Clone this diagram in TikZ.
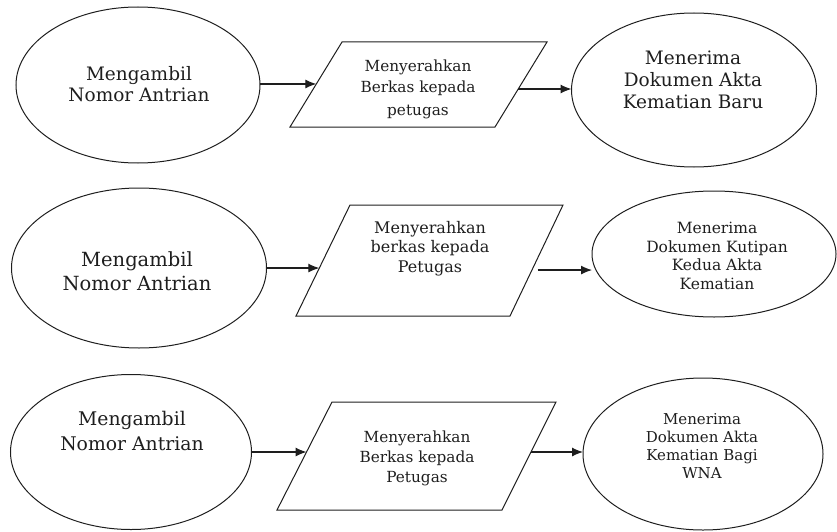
\documentclass[tikz,border=0pt]{standalone}
\usepackage{fontspec}
\setmainfont{DejaVu Serif}
\usetikzlibrary{shapes.geometric,arrows.meta,calc}
\definecolor{ink}{HTML}{1E1E1E}
\begin{document}
\begin{tikzpicture}[x=1pt,y=-1pt,
  line width=1pt,
  oval/.style={draw=ink,ellipse,inner sep=0pt,outer sep=0pt},
  para/.style={draw=ink,line join=miter},
  lbl/.style={align=center,text=ink,inner sep=0pt},
  arr/.style={draw=ink,line width=1.1pt,-{Latex[length=11pt,width=9pt]}}]
\useasboundingbox (0,0) rectangle (837,532);

% Row 1
\node[oval,minimum width=244pt,minimum height=156pt] (e1) at (138,85) {};
\coordinate (p1tl) at (342,42);
\coordinate (p1tr) at (547,42);
\coordinate (p1br) at (495,127);
\coordinate (p1bl) at (290,127);
\draw[para] (p1tl) -- (p1tr) -- (p1br) -- (p1bl) -- cycle;
\node[oval,minimum width=245pt,minimum height=154pt] (e2) at (694,90) {};
\node[lbl,font=\fontsize{18.5}{21}\selectfont] (t1) at (139,84) {Mengambil\\Nomor Antrian};
\node[lbl,font=\fontsize{15.3}{21}\selectfont] (t2) at (418,89) {Menyerahkan\\Berkas kepada\\[2pt]petugas};
\node[lbl,font=\fontsize{18.5}{22}\selectfont] (t3) at (693,80) {Menerima\\Dokumen Akta\\Kematian Baru};
\coordinate (p1in) at ($(p1tl)!0.494!(p1bl)$);
\coordinate (p1out) at ($(p1tr)!0.553!(p1br)$);
\draw[arr] (e1.east |- p1in) -- (p1in);
\draw[arr] (p1out) -- (p1out -| e2.west);

% Row 2
\node[oval,minimum width=255pt,minimum height=160pt] (e3) at (139,268) {};
\coordinate (p2tl) at (350,205);
\coordinate (p2tr) at (563,205);
\coordinate (p2br) at (510,316);
\coordinate (p2bl) at (296,316);
\draw[para] (p2tl) -- (p2tr) -- (p2br) -- (p2bl) -- cycle;
\node[oval,minimum width=244pt,minimum height=126pt] (e4) at (714,254) {};
\node[lbl,font=\fontsize{19.5}{24}\selectfont] (t4) at (137,271) {Mengambil\\Nomor Antrian};
\node[lbl,font=\fontsize{16}{19.5}\selectfont] (t5) at (430,248.5) {Menyerahkan\\berkas kepada\\Petugas};
\node[lbl,font=\fontsize{15.5}{18.5}\selectfont] (t6) at (717,256) {Menerima\\Dokumen Kutipan\\Kedua Akta\\Kematian};
\coordinate (p2in) at ($(p2tl)!0.568!(p2bl)$);
\coordinate (p2edge) at ($(p2tr)!0.586!(p2br)$);
\coordinate (p2out) at ($(p2edge)+(6,0)$);
\draw[arr] (e3.east |- p2in) -- (p2in);
\draw[arr] (p2out) -- (p2out -| e4.west);

% Row 3
\node[oval,minimum width=241pt,minimum height=155pt] (e5) at (131,452) {};
\coordinate (p3tl) at (332,402);
\coordinate (p3tr) at (556,402);
\coordinate (p3br) at (502,510);
\coordinate (p3bl) at (277,510);
\draw[para] (p3tl) -- (p3tr) -- (p3br) -- (p3bl) -- cycle;
\node[oval,minimum width=240pt,minimum height=152pt] (e6) at (703,454) {};
\node[lbl,font=\fontsize{18.8}{25}\selectfont] (t7) at (132,431) {Mengambil\\Nomor Antrian};
\node[lbl,font=\fontsize{15.3}{20}\selectfont] (t8) at (417,458) {Menyerahkan\\Berkas kepada\\Petugas};
\node[lbl,font=\fontsize{15}{18}\selectfont] (t9) at (702,446) {Menerima\\Dokumen Akta\\Kematian Bagi\\WNA};
\coordinate (p3in) at ($(p3tl)!0.463!(p3bl)$);
\coordinate (p3out) at ($(p3tr)!0.463!(p3br)$);
\draw[arr] (e5.east |- p3in) -- (p3in);
\draw[arr] (p3out) -- (p3out -| e6.west);
\end{tikzpicture}
\end{document}
